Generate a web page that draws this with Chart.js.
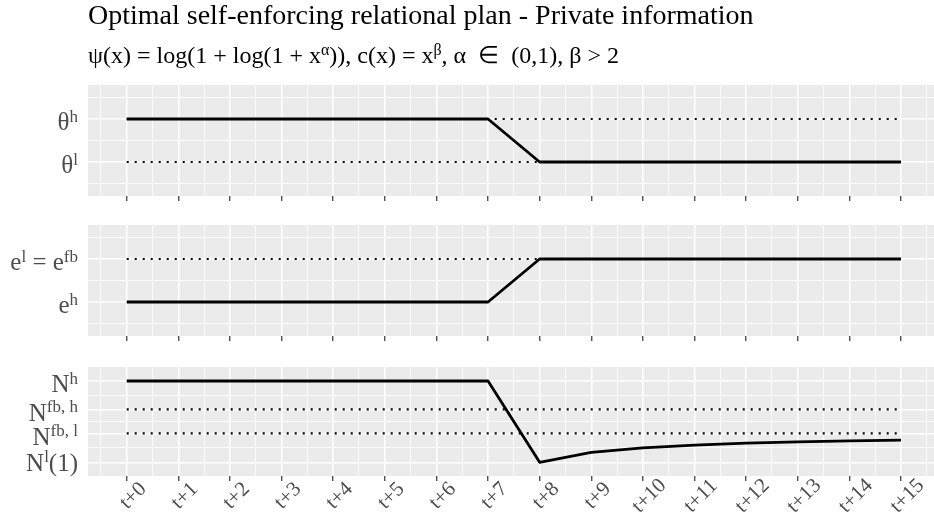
<!DOCTYPE html>
<html>
<head>
<meta charset="utf-8">
<script src="https://cdn.jsdelivr.net/npm/chart.js@4.4.1/dist/chart.umd.min.js"></script>
<style>
  body { margin: 0; background: #fff; width: 934px; height: 521px; overflow: hidden; position: relative; }
  canvas { position: absolute; left: 0; }
</style>
</head>
<body>
<canvas id="theta" width="934" height="208" style="top:0"></canvas>
<canvas id="effort" width="934" height="123" style="top:225px"></canvas>
<canvas id="network" width="934" height="154" style="top:367px"></canvas>
<script>
// periods on the x axis
const periods = [0, 1, 2, 3, 4, 5, 6, 7, 8, 9, 10, 11, 12, 13, 14, 15];
const periodLabels = ['t+0', 't+1', 't+2', 't+3', 't+4', 't+5', 't+6', 't+7',
                      't+8', 't+9', 't+10', 't+11', 't+12', 't+13', 't+14', 't+15'];

// panel 1: type
const thetaPlan = [1, 1, 1, 1, 1, 1, 1, 1, 0, 0, 0, 0, 0, 0, 0, 0];
const thetaHigh = [1, 1, 1, 1, 1, 1, 1, 1, 1, 1, 1, 1, 1, 1, 1, 1];
const thetaLow  = [0, 0, 0, 0, 0, 0, 0, 0, 0, 0, 0, 0, 0, 0, 0, 0];
const thetaTicks = [0, 1];
const thetaTickText = [[['θ', 0], ['l', 1]], [['θ', 0], ['h', 1]]];

// panel 2: effort
const effortPlan = [0, 0, 0, 0, 0, 0, 0, 0, 1, 1, 1, 1, 1, 1, 1, 1];
const effortFirstBest = [1, 1, 1, 1, 1, 1, 1, 1, 1, 1, 1, 1, 1, 1, 1, 1];
const effortTicks = [0, 1];
const effortTickText = [[['e', 0], ['h', 1]], [['e', 0], ['l', 1], [' = e', 0], ['fb', 1]]];

// panel 3: N
const nPlan   = [1, 1, 1, 1, 1, 1, 1, 1, 0, 0.123, 0.179, 0.212, 0.237, 0.252, 0.265, 0.273];
const nFbHigh = [0.65, 0.65, 0.65, 0.65, 0.65, 0.65, 0.65, 0.65, 0.65, 0.65, 0.65, 0.65, 0.65, 0.65, 0.65, 0.65];
const nFbLow  = [0.355, 0.355, 0.355, 0.355, 0.355, 0.355, 0.355, 0.355, 0.355, 0.355, 0.355, 0.355, 0.355, 0.355, 0.355, 0.355];
const nTicks = [0, 0.355, 0.65, 1];
const nTickText = [[['N', 0], ['l', 1], ['(1)', 0]], [['N', 0], ['fb, l', 1]],
                   [['N', 0], ['fb, h', 1]], [['N', 0], ['h', 1]]];

const SERIF = '"Liberation Serif", "Times New Roman", serif';
const TEXT_GREY = '#4D4D4D';

// draws base text with raised superscript pieces
function drawRich(ctx, parts, x, y, size, align, vcenter) {
  const supSize = Math.round(size * 0.68);
  const raise = size * 0.34;
  let w = 0, asc = 0, desc = 0;
  const ms = parts.map(([t, s]) => {
    ctx.font = (s ? supSize : size) + 'px ' + SERIF;
    const m = ctx.measureText(t);
    w += m.width;
    asc = Math.max(asc, m.actualBoundingBoxAscent + (s ? raise : 0));
    desc = Math.max(desc, m.actualBoundingBoxDescent - (s ? raise : 0));
    return m;
  });
  const base = vcenter ? y + (asc - desc) / 2 + 1 : y;
  let cx = align === 'right' ? x - w : x;
  ctx.textAlign = 'left';
  ctx.textBaseline = 'alphabetic';
  parts.forEach(([t, s], i) => {
    ctx.font = (s ? supSize : size) + 'px ' + SERIF;
    ctx.fillText(t, cx, s ? base - raise : base);
    cx += ms[i].width;
  });
}

const panelBackground = {
  id: 'panelBackground',
  beforeDraw(chart) {
    const a = chart.chartArea, ctx = chart.ctx;
    ctx.save();
    ctx.fillStyle = '#EBEBEB';
    ctx.fillRect(a.left, a.top, a.right - a.left, a.bottom - a.top);
    ctx.restore();
  }
};

function yLabels(ticks, texts) {
  return {
    id: 'yLabels',
    afterDraw(chart) {
      const ctx = chart.ctx, y = chart.scales.y;
      ctx.save();
      ctx.fillStyle = TEXT_GREY;
      ticks.forEach((v, i) => drawRich(ctx, texts[i], 78, y.getPixelForValue(v), 25, 'right', true));
      ctx.restore();
    }
  };
}

// rotated period labels under the bottom panel
const periodTicks = {
  id: 'periodTicks',
  afterDraw(chart) {
    const ctx = chart.ctx, x = chart.scales.x;
    const yc = chart.chartArea.bottom + 20;
    ctx.save();
    ctx.fillStyle = TEXT_GREY;
    ctx.font = '21px ' + SERIF;
    ctx.textAlign = 'center';
    ctx.textBaseline = 'middle';
    periods.forEach((p, i) => {
      ctx.save();
      ctx.translate(x.getPixelForValue(p) + 6.5, yc);
      ctx.rotate(-Math.PI / 4);
      ctx.fillText(periodLabels[i], 0, 0);
      ctx.restore();
    });
    ctx.restore();
  }
};

const headings = {
  id: 'headings',
  afterDraw(chart) {
    const ctx = chart.ctx;
    ctx.save();
    ctx.fillStyle = '#000';
    ctx.font = '28px ' + SERIF;
    ctx.textAlign = 'left';
    ctx.textBaseline = 'alphabetic';
    ctx.fillText('Optimal self-enforcing relational plan - Private information', 88, 24);
    drawRich(ctx, [['ψ(x) = log(1 + log(1 + x', 0], ['α', 1], [')), c(x) = x', 0], ['β', 1],
                   [', α  ∈  (0,1), β > 2', 0]], 88, 63, 24, 'left', false);
    ctx.restore();
  }
};

const xGrid = periods.flatMap(p => [p - 0.5, p]).concat([15.5]);

function series(values) {
  return periods.map((p, i) => ({ x: p, y: values[i] }));
}

function solid(values) {
  return { data: series(values), borderColor: '#000', borderWidth: 2.8, borderCapStyle: 'butt', borderJoinStyle: 'round' };
}

function dotted(values) {
  return { data: series(values), borderColor: '#000', borderWidth: 2.2, borderDash: [2, 6], borderCapStyle: 'butt' };
}

function yGrid(ticks, min, max) {
  const out = ticks.map(v => ({ value: v, minor: false }));
  for (let i = 0; i < ticks.length - 1; i++) out.push({ value: (ticks[i] + ticks[i + 1]) / 2, minor: true });
  const lo = ticks[0] - (ticks[1] - ticks[0]) / 2;
  const hi = ticks[ticks.length - 1] + (ticks[ticks.length - 1] - ticks[ticks.length - 2]) / 2;
  if (lo > min) out.push({ value: lo, minor: true });
  if (hi < max) out.push({ value: hi, minor: true });
  return out.sort((a, b) => a.value - b.value);
}

function panel(id, cfg) {
  return new Chart(document.getElementById(id), {
    type: 'line',
    data: { datasets: cfg.datasets },
    options: {
      responsive: false,
      animation: false,
      layout: { padding: { top: cfg.padTop || 0, left: 0, right: 0, bottom: 0 } },
      plugins: { legend: { display: false }, tooltip: { enabled: false } },
      elements: { point: { radius: 0 }, line: { tension: 0 } },
      scales: {
        x: {
          type: 'linear',
          min: -0.75,
          max: 15.64,
          afterBuildTicks: s => { s.ticks = xGrid.map(v => ({ value: v })); },
          afterFit: s => { s.height = cfg.xHeight; s.paddingLeft = 0; s.paddingRight = 0; },
          border: { display: false },
          grid: {
            color: '#FFFFFF',
            lineWidth: c => Number.isInteger(c.tick.value) ? 1.5 : 0.8,
            tickColor: c => Number.isInteger(c.tick.value) ? '#333333' : 'rgba(0,0,0,0)',
            tickLength: 5,
            tickWidth: 1.2
          },
          ticks: { display: false }
        },
        y: {
          type: 'linear',
          min: cfg.yMin,
          max: cfg.yMax,
          afterBuildTicks: s => { s.ticks = yGrid(cfg.yTicks, cfg.yMin, cfg.yMax); },
          afterFit: s => { s.width = 88; },
          border: { display: false },
          grid: {
            color: '#FFFFFF',
            drawTicks: false,
            lineWidth: c => c.tick && c.tick.minor ? 0.8 : 1.5
          },
          ticks: { display: false }
        }
      }
    },
    plugins: [panelBackground, yLabels(cfg.yTicks, cfg.yText)].concat(cfg.extra || [])
  });
}

panel('theta', {
  padTop: 85, xHeight: 12, yMin: -0.79, yMax: 1.79,
  yTicks: thetaTicks, yText: thetaTickText,
  datasets: [solid(thetaPlan), dotted(thetaHigh), dotted(thetaLow)],
  extra: [headings]
});

panel('effort', {
  xHeight: 12, yMin: -0.79, yMax: 1.79,
  yTicks: effortTicks, yText: effortTickText,
  datasets: [solid(effortPlan), dotted(effortFirstBest)]
});

panel('network', {
  xHeight: 45, yMin: -0.168, yMax: 1.172,
  yTicks: nTicks, yText: nTickText,
  datasets: [solid(nPlan), dotted(nFbHigh), dotted(nFbLow)],
  extra: [periodTicks]
});
</script>
</body>
</html>
